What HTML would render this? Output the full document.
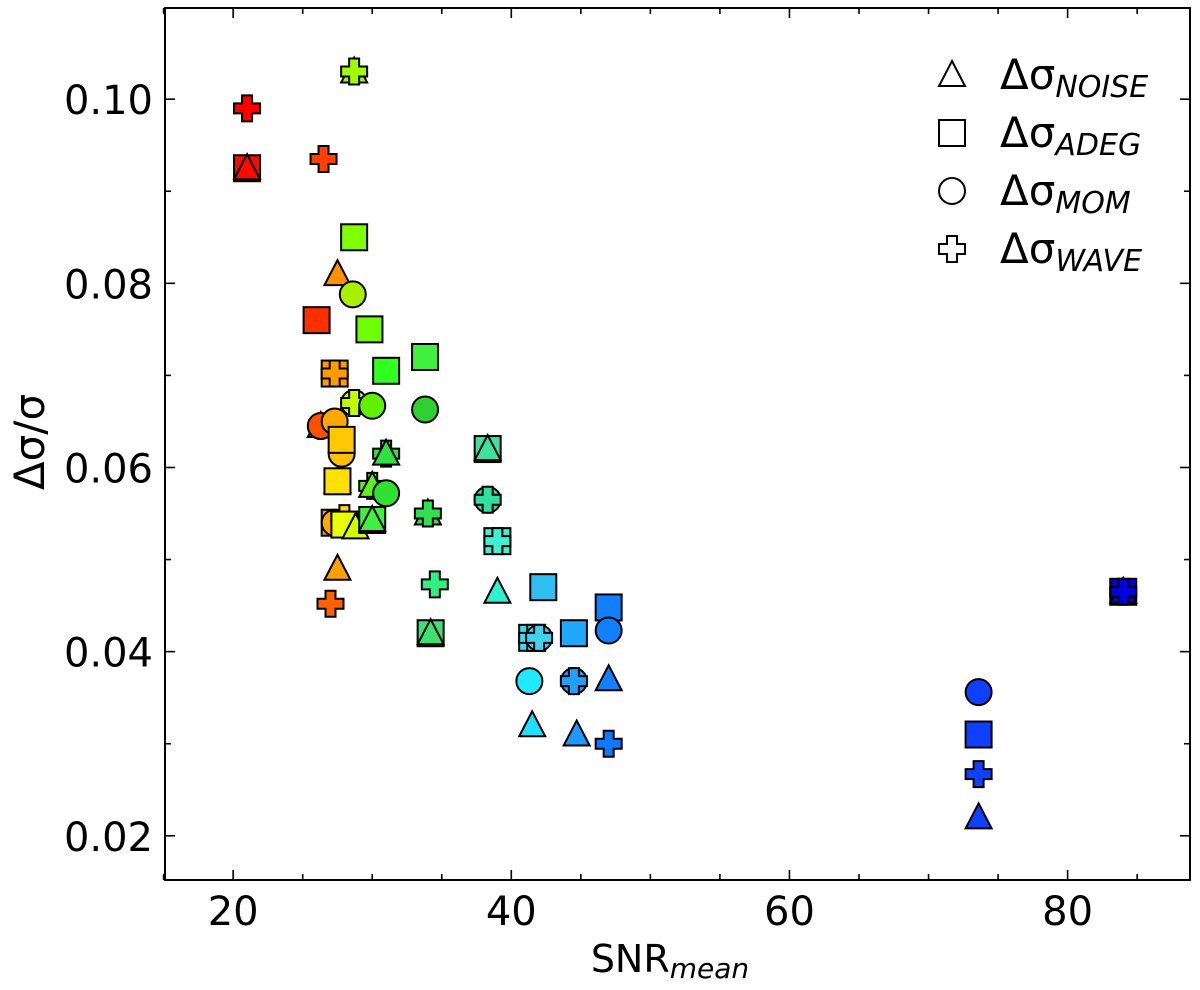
<!DOCTYPE html>
<html><head><meta charset="utf-8"><style>
html,body{margin:0;padding:0;background:#fff;}
svg{display:block;font-family:"DejaVu Sans","Liberation Sans",sans-serif;}
</style></head><body>
<svg id="chart" width="1200" height="990" viewBox="0 0 1200 990" xmlns="http://www.w3.org/2000/svg"></svg>
<script>
const snrValues=[21,21,21,26.5,26,26.3,26.3,27,27.5,27.5,27.3,27.3,27.3,27.3,27.3,27.8,27.8,27.5,27.5,28,28,28,28.7,28.7,28.6,28.7,28.7,28.7,28.8,29.8,30,30,30,30,30,31,31,31,31,33.8,33.8,34,34,34.2,34.2,34.5,38.3,38.3,38.3,38.3,39,39,39,41.5,41.5,42,42,42.3,41.3,41.5,44.5,44.5,44.5,44.7,47,47,47,47,73.6,73.6,73.6,73.6,84,84,84];
const dsValues=[0.099,0.0925,0.0925,0.0935,0.076,0.0645,0.0645,0.0452,0.081,0.049,0.0702,0.0702,0.065,0.054,0.054,0.0615,0.063,0.0585,0.0585,0.0545,0.0538,0.0538,0.103,0.103,0.0788,0.085,0.067,0.067,0.0535,0.075,0.0667,0.058,0.058,0.0543,0.0543,0.0705,0.0615,0.0615,0.0572,0.072,0.0663,0.055,0.055,0.042,0.042,0.0473,0.062,0.062,0.0565,0.0565,0.052,0.052,0.0465,0.0415,0.0415,0.0415,0.0415,0.047,0.0368,0.032,0.042,0.0368,0.0368,0.031,0.0448,0.0423,0.037,0.030,0.0356,0.031,0.0267,0.022,0.0465,0.0465,0.0465];
const markerTypes=["P","S","T","P","S","T","C","P","T","T","S","P","C","S","C","C","S","T","S","P","C","S","T","P","C","S","C","P","T","S","C","P","T","S","T","S","P","T","C","S","C","T","P","S","T","P","S","T","C","P","S","P","T","S","P","C","P","S","C","T","S","C","P","T","S","C","T","P","C","S","P","T","S","T","P"];
const pointColors=["#ff0000","#f01000","#ff0800","#ff4000","#ff3000","#ff4800","#ff5000","#ff6000","#ff9000","#ffa000","#ff9a00","#ff9a00","#ffa800","#ffa000","#ffa800","#ffc000","#ffc800","#ffe000","#ffe000","#ffd800","#f0e800","#e8ff00","#a0ff00","#a0ff00","#a8f000","#80ff00","#c0ff00","#c0ff00","#d0ff00","#70ff00","#60f000","#60f020","#60f020","#40f040","#40f040","#30ff20","#30e040","#30e040","#30e030","#40f040","#30d030","#30e050","#30e050","#40e070","#40e070","#30f080","#40e0a0","#40e0a0","#30e0a0","#30e0a0","#40f0d0","#40f0d0","#30f0d0","#30e0f0","#30e0f0","#40d0f0","#40d0f0","#30c0f0","#20e8ff","#20e0ff","#20a8ff","#20a0ff","#20a0ff","#2098ff","#1080ff","#1080ff","#1080ff","#1078ff","#1040ff","#1040ff","#1040ff","#1040ff","#0000e0","#0000e0","#0000e0"];
const xTicks=[20,40,60,80];
const yTicks=[0.02,0.04,0.06,0.08,0.10];
const yTickLabels=["0.02","0.04","0.06","0.08","0.10"];

const NS="http://www.w3.org/2000/svg";
const svg=document.getElementById("chart");
const L=165,R=1190,T=8,B=880;
const X0=15.1,X1=88.8,Y0=0.0152,Y1=0.1099;
const sx=v=>L+(v-X0)/(X1-X0)*(R-L);
const sy=v=>B-(v-Y0)/(Y1-Y0)*(B-T);
function mk(tag,attrs,parent){const e=document.createElementNS(NS,tag);for(const k in attrs)e.setAttribute(k,attrs[k]);(parent||svg).appendChild(e);return e;}

function marker(type,cx,cy,fill,g){
  const s=13;let e;
  if(type==="S") e=mk("rect",{x:cx-s,y:cy-s,width:2*s,height:2*s},g);
  else if(type==="C") e=mk("circle",{cx:cx,cy:cy,r:s},g);
  else if(type==="T") e=mk("polygon",{points:`${cx},${cy-s-1} ${cx+s},${cy+s-2} ${cx-s},${cy+s-2}`},g);
  else {const a=5,b=s;e=mk("polygon",{points:`${cx-a},${cy-b} ${cx+a},${cy-b} ${cx+a},${cy-a} ${cx+b},${cy-a} ${cx+b},${cy+a} ${cx+a},${cy+a} ${cx+a},${cy+b} ${cx-a},${cy+b} ${cx-a},${cy+a} ${cx-b},${cy+a} ${cx-b},${cy-a} ${cx-a},${cy-a}`},g);}
  e.setAttribute("fill",fill);e.setAttribute("stroke","#000");e.setAttribute("stroke-width","2");
  return e;
}

const pg=mk("g",{});


for(let i=0;i<snrValues.length;i++){
  const m=marker(markerTypes[i],sx(snrValues[i]),sy(dsValues[i]),pointColors[i],pg);
  
  
}

const fr=mk("rect",{x:L,y:T,width:R-L,height:B-T,fill:"none",stroke:"#000","stroke-width":2});



const tg=mk("g",{stroke:"#000","stroke-width":1.6});


for(let v=15;v<=X1;v+=5){const x=sx(v);const major=xTicks.includes(v);const len=major?10:6;
  mk("line",{x1:x,y1:B,x2:x,y2:B-len},tg);mk("line",{x1:x,y1:T,x2:x,y2:T+len},tg);}
for(let k=2;k<=10;k++){const v=k/100;const y=sy(v);const major=k%2===0;const len=major?10:6;
  mk("line",{x1:L,y1:y,x2:L+len,y2:y},tg);mk("line",{x1:R,y1:y,x2:R-len,y2:y},tg);}
xTicks.forEach(v=>{const t=mk("text",{x:sx(v),y:B+45,"text-anchor":"middle","font-size":40});t.textContent=String(v);
  });
yTicks.forEach((v,i)=>{const t=mk("text",{x:L-12,y:sy(v)+15,"text-anchor":"end","font-size":40});t.textContent=yTickLabels[i];
  });

const xt=mk("text",{x:670,y:972,"text-anchor":"middle","font-size":38});
xt.innerHTML='SNR<tspan font-style="italic" font-size="28" dy="6">mean</tspan>';

const yt=mk("text",{x:0,y:0,"text-anchor":"middle","font-size":42,transform:"translate(44,442) rotate(-90)"});
yt.textContent="Δσ/σ";


const legendLabels=["NOISE","ADEG","MOM","WAVE"];
const legendTypes=["T","S","C","P"];
const lg=mk("g",{});

legendLabels.forEach((lab,i)=>{const y=75+i*58;
  marker(legendTypes[i],952,y,"#fff",lg);
  const t=mk("text",{x:1000,y:y+14,"font-size":42},lg);
  t.innerHTML='Δσ<tspan font-style="italic" font-size="30" dy="8">'+lab+'</tspan>';
  
});
</script>
</body></html>
